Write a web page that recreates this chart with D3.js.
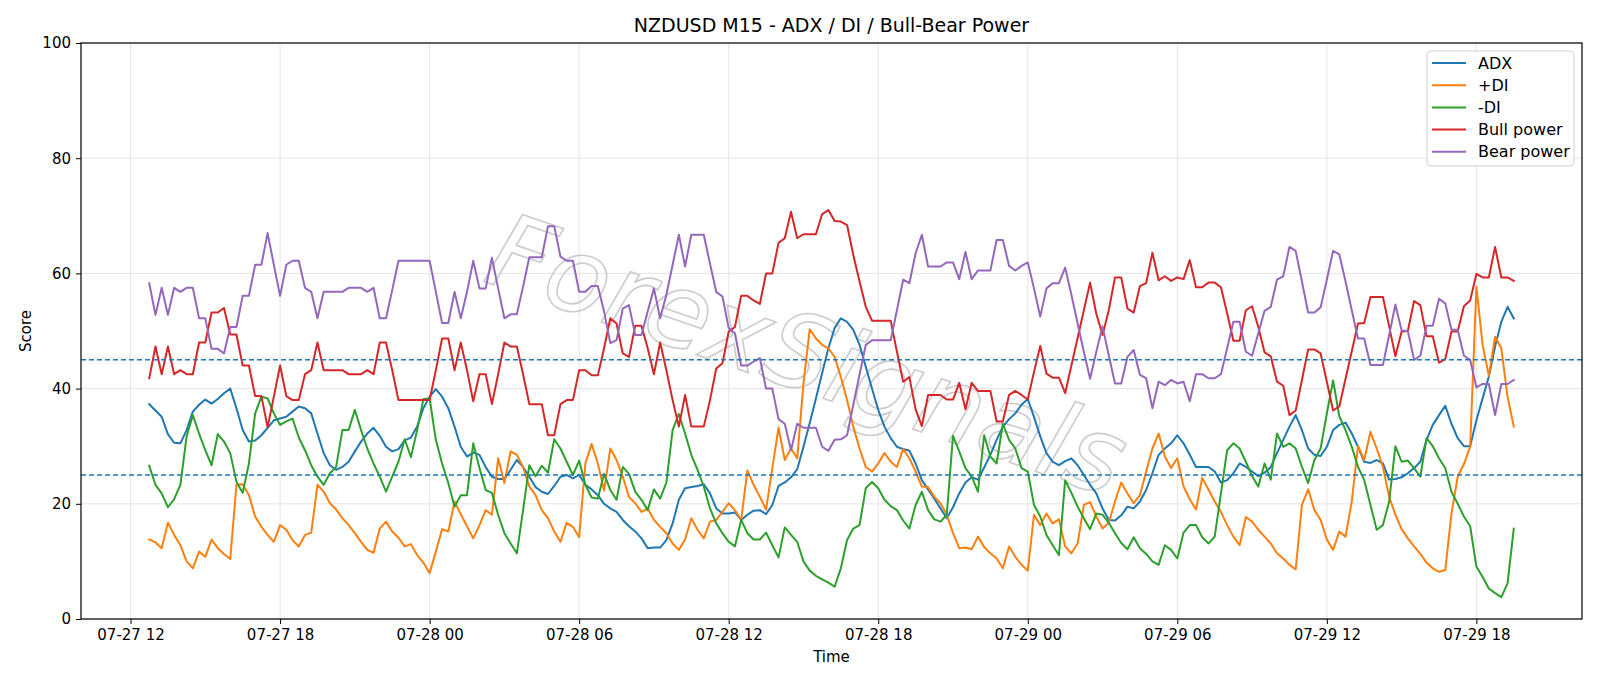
<!DOCTYPE html>
<html><head><meta charset="utf-8">
<script src="https://cdn.jsdelivr.net/npm/d3@7"></script>
<style>body{margin:0;background:#fff} svg text{font-family:"DejaVu Sans",sans-serif}</style>
</head><body><svg id="c" width="1600" height="686"></svg>
<script>
const title = "NZDUSD M15 - ADX / DI / Bull-Bear Power";
const startTime = "2024-07-27T12:45:00Z";
const stepMinutes = 15;
const yTicks = [0, 20, 40, 60, 80, 100];
const thresholds = [25, 45];
const seriesNames = ["ADX", "+DI", "-DI", "Bull power", "Bear power"];
const seriesColors = ["#1f77b4", "#ff7f0e", "#2ca02c", "#d62728", "#9467bd"];

const adx = [37.3,36.2,35.1,32.1,30.6,30.5,32.8,36.0,37.2,38.1,37.4,38.2,39.2,40.0,36.6,32.8,30.8,31.0,31.9,33.2,34.5,34.8,
35.1,36.0,36.9,36.6,35.7,32.2,28.8,26.7,25.9,26.4,27.3,29.1,30.8,32.2,33.2,31.8,29.9,29.1,29.5,31.0,31.5,33.4,36.6,
38.6,39.9,38.6,36.6,33.4,29.9,28.2,28.9,28.5,26.4,24.7,24.3,24.3,25.9,27.6,26.4,24.7,22.9,22.1,21.7,23.1,24.7,
25.0,24.4,25.0,23.3,22.5,21.5,20.0,19.2,18.6,17.2,16.1,15.2,14.0,12.3,12.4,12.4,13.7,16.6,20.7,22.7,22.9,23.1,23.4,
21.8,19.2,18.3,18.3,18.5,17.2,18.1,18.8,18.9,18.2,19.8,23.1,23.7,24.6,26.0,29.9,34.0,38.3,42.7,47.0,50.5,52.2,
51.6,50.2,47.6,43.8,40.0,36.3,33.4,31.4,29.9,29.5,29.2,27.0,24.1,22.5,20.9,19.2,17.5,19.4,21.8,23.7,24.6,24.2,26.3,
28.5,31.1,33.4,34.7,35.7,37.2,38.2,35.1,31.7,28.8,27.3,26.7,27.4,27.9,26.7,25.0,23.3,21.8,19.2,17.2,17.1,18.0,
19.5,19.2,20.4,22.4,25.3,28.5,29.6,30.5,31.9,30.5,28.5,26.4,26.4,26.4,25.6,23.7,24.1,25.3,27.0,26.4,25.6,24.8,25.4,
26.4,28.8,31.1,33.4,35.4,32.8,29.6,28.5,28.3,29.9,32.8,33.7,34.1,32.2,29.9,27.3,27.1,27.6,27.0,24.2,24.3,24.6,
25.3,26.2,27.3,31.1,33.7,35.4,37.0,33.9,31.4,30.0,30.0,34.5,38.3,42.1,47.3,51.6,54.2,52.2];

const plusDI = [13.8,13.3,12.3,16.7,14.6,12.8,10.0,8.8,11.7,10.8,13.8,12.3,11.3,10.4,23.3,23.4,21.5,17.8,16.0,14.6,13.4,16.3,
15.5,13.7,12.6,14.6,15.0,23.3,22.1,20.1,19.0,17.5,16.3,14.9,13.4,12.0,11.5,15.7,16.9,15.2,14.1,12.6,13.0,11.1,9.8,
8.0,11.7,15.6,15.2,20.4,18.2,16.1,14.0,16.3,18.9,18.1,27.9,23.6,29.1,28.5,26.4,23.0,21.5,18.9,17.5,15.2,13.4,
16.7,16.0,14.2,27.0,30.4,27.0,22.3,29.6,27.6,24.7,21.2,20.1,18.6,19.2,17.2,16.0,14.9,13.1,12.0,13.8,17.5,15.5,14.0,
16.9,17.2,18.6,20.1,18.9,17.2,25.8,23.3,21.2,19.0,26.2,33.2,27.6,29.6,27.9,40.9,50.3,48.7,47.6,47.0,45.5,42.0,
38.0,33.4,29.6,26.4,25.6,27.0,28.8,27.3,26.4,29.5,27.9,25.6,23.0,22.9,21.2,20.1,18.1,14.9,12.3,12.4,12.1,14.3,12.5,
11.4,10.5,8.8,12.6,10.8,9.4,8.4,18.1,16.3,18.3,16.6,17.3,12.6,11.4,13.1,19.8,20.3,17.8,15.7,16.7,20.4,23.7,
21.8,20.1,21.5,25.6,29.6,32.2,28.2,26.2,27.9,23.0,20.8,19.0,24.5,22.5,20.4,18.6,16.3,14.3,12.8,17.7,16.9,15.5,14.3,
13.1,11.4,10.5,9.4,8.6,19.8,22.5,18.9,17.2,13.8,12.0,15.2,14.3,20.4,30.0,27.6,32.5,29.6,26.4,21.2,18.1,15.6,
14.0,12.6,11.3,9.8,8.8,8.2,8.5,18.3,24.7,26.9,29.9,57.7,47.6,42.2,49.0,47.0,38.6,33.4];

const minusDI = [26.6,23.3,21.8,19.4,20.8,23.3,31.7,35.4,32.2,29.3,26.7,32.1,30.8,28.8,23.8,21.9,27.0,35.7,38.6,38.3,35.7,33.7,
34.3,34.8,31.5,29.3,26.7,24.7,23.3,25.3,26.4,32.8,32.8,36.3,32.8,29.6,27.0,24.7,22.1,24.7,27.3,31.2,28.1,32.8,38.2,
38.3,31.1,27.0,23.6,19.5,21.5,21.5,30.5,26.2,22.4,21.9,18.1,14.9,13.1,11.4,18.9,26.7,24.8,26.6,25.4,31.2,29.6,
27.3,25.0,27.5,23.3,21.1,20.9,25.2,22.4,20.7,26.4,25.2,22.1,20.7,18.9,22.5,20.9,23.7,32.8,35.6,32.2,28.5,25.9,23.0,
19.2,16.6,14.9,13.4,12.6,17.2,14.9,13.8,13.8,15.0,12.8,10.7,15.9,14.6,13.4,10.0,8.4,7.5,6.9,6.3,5.6,8.8,
13.7,15.7,16.3,22.7,23.8,22.7,20.7,19.6,18.9,17.1,15.7,19.8,22.1,18.9,17.3,16.9,18.1,31.8,29.1,26.2,24.7,22.1,31.9,
28.2,27.0,33.9,31.1,29.6,26.2,25.6,19.8,17.8,14.6,12.8,11.1,24.1,21.9,19.5,17.5,15.6,18.3,18.1,16.7,14.9,13.2,
12.1,14.2,12.3,11.3,10.0,9.4,12.8,12.0,10.5,15.0,16.3,16.3,14.2,13.1,14.3,21.8,29.3,30.5,29.6,27.3,24.8,23.0,27.0,
24.2,32.2,29.9,30.5,29.6,26.4,23.6,27.6,29.6,35.7,41.4,35.2,32.8,29.9,26.4,24.1,19.8,15.5,16.3,20.4,30.0,27.3,
27.5,26.2,24.7,31.4,30.0,27.9,26.2,22.1,20.0,17.8,16.1,9.1,7.3,5.3,4.5,3.8,6.2,15.7];

const bullPower = [41.8,47.3,42.5,47.3,42.5,43.2,42.5,42.5,48.0,48.0,53.2,53.2,54.0,49.4,49.4,44.0,44.0,38.7,38.7,33.3,38.6,44.0,
38.7,38.0,38.0,42.5,43.2,48.0,43.2,43.2,43.2,43.2,42.5,42.5,42.5,43.2,42.5,48.0,48.0,43.2,38.0,38.0,38.0,38.0,38.0,
38.0,43.2,48.7,48.7,43.2,48.0,43.2,37.8,42.5,42.5,37.3,42.5,48.0,47.3,47.3,42.5,37.3,37.3,37.3,31.9,31.9,37.3,
38.0,38.0,43.2,43.2,42.3,42.3,47.0,52.2,51.3,46.1,45.5,50.9,50.9,47.0,42.5,48.0,43.2,38.0,33.4,38.9,33.4,33.4,33.4,
38.0,43.5,44.4,49.9,50.7,56.1,56.1,55.3,54.7,60.0,60.0,65.3,66.1,70.7,66.1,66.8,66.8,66.8,70.3,71.0,69.1,69.0,
68.4,63.2,58.6,54.2,51.8,51.8,51.8,51.8,46.4,41.2,42.0,36.4,33.5,38.9,38.9,38.9,38.1,38.1,41.0,36.4,41.0,39.6,39.6,
39.6,34.3,34.3,38.9,39.6,38.9,38.1,42.9,47.4,42.6,41.9,41.9,39.2,44.0,48.8,53.6,58.4,53.0,49.3,53.6,59.3,59.3,
53.9,53.2,57.8,58.3,63.6,58.8,59.5,58.7,59.3,59.0,62.3,57.6,57.6,58.4,58.4,57.6,53.1,48.3,48.3,53.6,54.3,50.7,46.3,
45.6,41.2,40.5,35.4,36.2,41.5,46.8,46.8,46.1,41.2,36.2,36.9,41.7,46.5,51.3,51.4,55.9,55.9,55.9,50.8,45.6,49.9,
50.0,55.2,54.5,49.1,49.1,44.5,45.1,49.9,49.9,54.3,55.3,59.9,59.3,59.3,64.6,59.3,59.3,58.7];

const bearPower = [58.3,52.8,57.5,52.8,57.5,56.8,57.5,57.5,52.2,52.2,46.9,46.9,46.1,50.7,50.7,56.1,56.1,61.5,61.5,67.0,61.5,56.1,
61.5,62.2,62.2,57.5,56.8,52.2,56.8,56.8,56.8,56.8,57.5,57.5,57.5,56.8,57.5,52.2,52.2,57.1,62.2,62.2,62.2,62.2,62.2,
62.2,56.8,51.4,51.4,56.8,52.2,56.8,62.2,57.4,57.4,62.7,57.4,52.2,52.9,52.9,57.7,62.8,62.8,62.8,68.2,68.2,62.9,
62.2,62.2,56.8,56.8,57.8,57.8,53.4,47.9,48.4,53.9,54.5,49.3,49.3,53.4,57.4,52.2,56.3,61.5,66.7,61.2,66.7,66.7,66.7,
61.7,56.8,56.0,50.5,49.6,44.0,44.0,44.7,45.3,40.0,40.0,34.7,33.9,29.3,33.9,33.2,33.2,33.2,29.9,29.2,31.1,31.2,
31.9,37.2,42.4,47.6,48.4,48.4,48.4,48.4,53.6,58.9,58.3,63.5,66.7,61.2,61.2,61.2,61.9,61.9,59.0,63.7,59.0,60.5,60.5,
60.5,65.8,65.8,61.3,60.5,61.3,61.9,57.4,52.5,57.4,58.3,58.3,61.0,56.3,51.3,46.4,41.7,46.4,50.8,45.8,40.9,40.9,
45.5,46.7,42.4,41.8,36.6,41.2,40.6,41.5,40.9,41.2,37.8,42.5,42.5,41.8,41.8,42.5,47.0,51.6,51.6,46.4,45.7,49.6,53.5,
54.2,58.9,59.5,64.6,63.9,58.6,53.2,53.2,54.1,58.9,63.9,63.3,58.6,53.6,48.7,48.7,44.1,44.1,44.1,49.3,54.6,50.1,
50.0,45.0,45.7,50.9,50.9,55.6,54.8,50.2,50.2,45.7,45.0,40.2,40.8,40.8,35.4,40.8,40.8,41.5];

const seriesValues = [adx, plusDI, minusDI, bullPower, bearPower];

const W = 1600, H = 686;
const m = {left: 81, right: 18, top: 43, bottom: 67};
const svg = d3.select("#c");
const t0 = Date.parse(startTime);
const times = adx.map((_, i) => new Date(t0 + i * stepMinutes * 60000));
const span = times[times.length - 1] - times[0];
const pad = span * 0.05;
const x = d3.scaleUtc()
  .domain([new Date(+times[0] - pad), new Date(+times[times.length - 1] + pad)])
  .range([m.left, W - m.right]);
const y = d3.scaleLinear().domain([0, 100]).range([H - m.bottom, m.top]);

const xTicks = d3.utcHour.every(6).range(x.domain()[0], x.domain()[1]);
const fmt = d3.utcFormat("%m-%d %H");

// grid
const grid = svg.append("g");
grid.selectAll(".gx").data(xTicks).join("line")
  .attr("x1", d => x(d)).attr("x2", d => x(d)).attr("y1", m.top).attr("y2", H - m.bottom)
  .attr("stroke", "#e5e5e5").attr("stroke-width", 1);
grid.selectAll(".gy").data(yTicks).join("line")
  .attr("y1", d => y(d)).attr("y2", d => y(d)).attr("x1", m.left).attr("x2", W - m.right)
  .attr("stroke", "#e5e5e5").attr("stroke-width", 1);

// watermark
svg.append("text")
  .attr("transform", "translate(805,362) rotate(19)")
  .attr("text-anchor", "middle").attr("dominant-baseline", "middle")
  .attr("font-size", 104).attr("font-style", "italic")
  .attr("fill", "none").attr("stroke", "#c4c4c4").attr("stroke-width", 1.6)
  .attr("opacity", 0.85)
  .text("ForexSignals");

// series
const line = d3.line().x((d, i) => x(times[i])).y(d => y(d));
seriesValues.forEach((vals, k) => {
  svg.append("path").datum(vals).attr("d", line)
    .attr("fill", "none").attr("stroke", seriesColors[k])
    .attr("stroke-width", 2).attr("stroke-linejoin", "round").attr("stroke-linecap", "square");
});

// threshold lines
svg.selectAll(".thr").data(thresholds).join("line")
  .attr("x1", m.left).attr("x2", W - m.right).attr("y1", d => y(d)).attr("y2", d => y(d))
  .attr("stroke", "#1f77b4").attr("stroke-width", 1.4).attr("stroke-dasharray", "5,3");

// axes
const xAxis = svg.append("g").attr("transform", `translate(0,${H - m.bottom})`)
  .call(d3.axisBottom(x).tickValues(xTicks).tickFormat(fmt).tickSize(5).tickPadding(5));
const yAxis = svg.append("g").attr("transform", `translate(${m.left},0)`)
  .call(d3.axisLeft(y).tickValues(yTicks).tickSize(5).tickPadding(5));
[xAxis, yAxis].forEach(a => {
  a.select(".domain").remove();
  a.selectAll("text").attr("font-size", 15).attr("fill", "#000").style("font-family", "DejaVu Sans");
  a.selectAll(".tick line").attr("stroke", "#000").attr("stroke-width", 1);
});

// frame
svg.append("rect").attr("x", m.left).attr("y", m.top)
  .attr("width", W - m.left - m.right).attr("height", H - m.top - m.bottom)
  .attr("fill", "none").attr("stroke", "#000").attr("stroke-width", 1.2);

// labels
svg.append("text").attr("x", (m.left + W - m.right) / 2).attr("y", 32)
  .attr("text-anchor", "middle").attr("font-size", 19).text(title);
svg.append("text").attr("x", (m.left + W - m.right) / 2).attr("y", 662)
  .attr("text-anchor", "middle").attr("font-size", 15).text("Time");
svg.append("text").attr("transform", `translate(31,${(m.top + H - m.bottom) / 2}) rotate(-90)`)
  .attr("text-anchor", "middle").attr("font-size", 15).text("Score");

// legend
const lg = svg.append("g");
lg.append("rect").attr("x", 1427).attr("y", 51).attr("width", 147).attr("height", 115)
  .attr("rx", 4).attr("fill", "#fff").attr("fill-opacity", 0.8)
  .attr("stroke", "#d0d0d0").attr("stroke-width", 1);
seriesNames.forEach((name, k) => {
  const yy = 63 + k * 22.2;
  lg.append("line").attr("x1", 1432).attr("x2", 1466).attr("y1", yy).attr("y2", yy)
    .attr("stroke", seriesColors[k]).attr("stroke-width", 2);
  lg.append("text").attr("x", 1478).attr("y", yy).attr("dy", "0.35em")
    .attr("font-size", 16).text(name);
});
</script></body></html>
